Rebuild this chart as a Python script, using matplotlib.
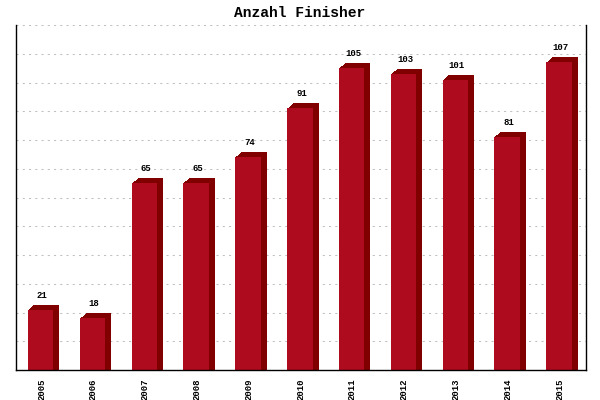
import numpy as np
import matplotlib
matplotlib.use("Agg")
import matplotlib.pyplot as plt
from matplotlib.transforms import ScaledTranslation

years = ["2005", "2006", "2007", "2008", "2009", "2010",
         "2011", "2012", "2013", "2014", "2015"]
finishers = [21, 18, 65, 65, 74, 91, 105, 103, 101, 81, 107]
title = "Anzahl Finisher"

front_colour = "#AF0B1E"
side_colour = "#800000"
mono = ["Liberation Mono", "DejaVu Sans Mono"]

fig = plt.figure(figsize=(6, 4), dpi=100)
ax = fig.add_axes([0.026, 0.075, 0.95, 0.8625])

x = np.arange(len(years)) - 0.015
width = 0.49
vals = np.array(finishers)

# fake 3d depth: stack dark copies of the bars shifted up/right in pixels
depth = 6
for k in range(depth, 0, -1):
    shift = ScaledTranslation(k / 100, k * 5 / 6 / 100, fig.dpi_scale_trans)
    dark = ax.bar(x, vals + 5, width, bottom=-5, color=side_colour,
                  linewidth=0, zorder=2)
    for p in dark.patches:
        p.set_transform(ax.transData + shift)

ax.bar(x, vals, width, color=front_colour, linewidth=0, zorder=3)

for xi, v in zip(x, finishers):
    ax.annotate(str(v), (xi + 0.03, v), xytext=(0, 10.5),
                textcoords="offset points", ha="center", va="center",
                fontsize=6.5, family=mono, fontweight="bold", zorder=4)

ax.set_xlim(-0.5, len(years) - 0.5)
ax.set_ylim(0, 120)
ax.set_yticks(np.arange(10, 121, 10))
ax.set_yticklabels([])
ax.set_xticks(np.arange(len(years)))
ax.set_xticklabels(years, rotation=90, fontsize=6.5, family=mono,
                   fontweight="bold")
ax.tick_params(length=0)
ax.tick_params(axis="x", pad=6)
ax.yaxis.grid(True, color="#C0C0C0", linestyle=(0, (2, 4)), linewidth=0.75)
ax.set_axisbelow(True)

ax.spines["top"].set_visible(False)
for s in ("left", "right", "bottom"):
    ax.spines[s].set_linewidth(1.0)
    ax.spines[s].set_color("black")
    ax.spines[s].set_zorder(5)

fig.text(0.5, 0.967, title, ha="center", va="center", fontsize=10.5,
         family=mono, fontweight="bold")

fig.savefig("out.png", dpi=100)
